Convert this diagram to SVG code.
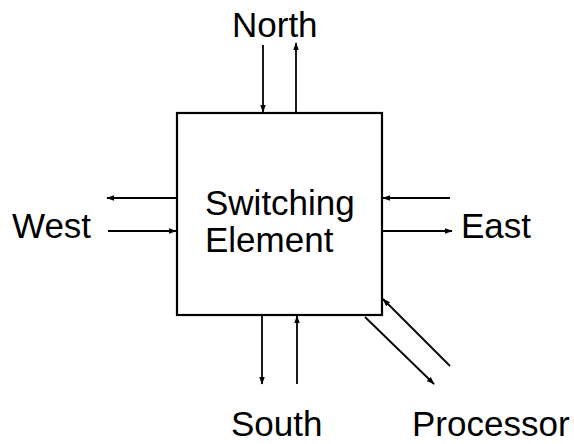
<svg xmlns="http://www.w3.org/2000/svg" width="574" height="444" viewBox="0 0 574 444">
<style>
  .lbl { font-family: "Liberation Sans", Arial, sans-serif; font-size: 35px; fill: #000; }
  .box { fill: #fff; stroke: #000; stroke-width: 2.2; }
  .conn { stroke: #000; stroke-width: 1.8; fill: none; marker-end: url(#ah); }
</style>
<defs>
  <marker id="ah" viewBox="0 0 10 10" refX="9" refY="5" markerWidth="4.5" markerHeight="4.5" orient="auto" markerUnits="strokeWidth">
    <path d="M0,1.5 L10,5 L0,8.5 Z" fill="#000"/>
  </marker>
</defs>
<rect width="574" height="444" fill="#fff"/>
<g id="switching-element">
  <rect class="box" x="177" y="113" width="205" height="202"/>
  <text class="lbl" x="205" y="215">Switching</text>
  <text class="lbl" x="205" y="252">Element</text>
</g>
<g id="north"><text class="lbl" x="232" y="37">North</text></g>
<g id="west"><text class="lbl" x="12" y="238">West</text></g>
<g id="east"><text class="lbl" x="461" y="238">East</text></g>
<g id="south"><text class="lbl" x="231" y="436">South</text></g>
<g id="processor"><text class="lbl" x="412" y="436">Processor</text></g>
<g id="connectors">
  <line class="conn" x1="263" y1="45" x2="263" y2="112"/>
  <line class="conn" x1="296" y1="112" x2="296" y2="43"/>
  <line class="conn" x1="176" y1="198" x2="107" y2="198"/>
  <line class="conn" x1="108" y1="231" x2="176" y2="231"/>
  <line class="conn" x1="450" y1="198" x2="383" y2="198"/>
  <line class="conn" x1="383" y1="231" x2="452" y2="231"/>
  <line class="conn" x1="262" y1="316" x2="262" y2="384"/>
  <line class="conn" x1="297" y1="384" x2="297" y2="316"/>
  <line class="conn" x1="365" y1="317" x2="434" y2="384"/>
  <line class="conn" x1="450" y1="366" x2="383" y2="299"/>
</g>
</svg>
